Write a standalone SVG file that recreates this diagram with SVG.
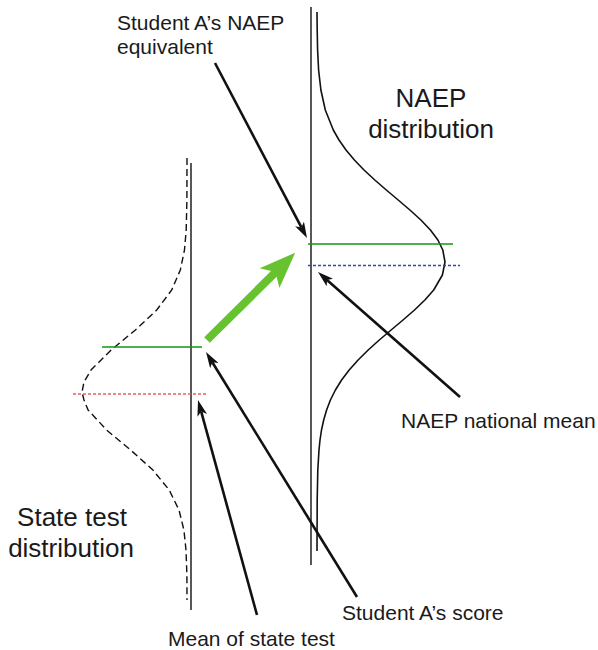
<svg xmlns="http://www.w3.org/2000/svg" width="598" height="650" viewBox="0 0 598 650">
<style>
text{font-family:"Liberation Sans",Arial,sans-serif;fill:#1a1a1a}
.lbl{font-size:21px}
.big{font-size:26px;text-anchor:middle}
.axis{stroke:#111;stroke-width:1.4;fill:none}
.curve{stroke:#111;stroke-width:1.6;fill:none;stroke-linejoin:round}
.dash{stroke:#111;stroke-width:1.4;fill:none;stroke-dasharray:7 4}
.green{stroke:#119911;stroke-width:1.4}
.conn{stroke:#111;stroke-width:2.6;fill:none;marker-end:url(#ah)}
</style>
<defs>
<marker id="ah" viewBox="0 0 16 10" refX="4" refY="5" markerWidth="16" markerHeight="10" markerUnits="userSpaceOnUse" orient="auto">
<path d="M0,0 L16,5 L0,10 L4,5 Z" fill="#111"/>
</marker>
</defs>
<rect width="598" height="650" fill="#fff"/>

<g id="naep-distribution">
<line class="axis" x1="311" y1="7" x2="311" y2="565"/>
<polyline class="curve" points="317,12 317.2,30 317.6,50 318.6,70 320.9,90 325.3,110 333.3,130 339,140 346,150 354.4,160 364,170 374.8,180 386.3,190 398.2,200 409.9,210 420.9,220 430.4,230 437.9,240 442.8,250 445,262 442.4,275 433.7,290 424.9,300 414.5,310 403,320 391.1,330 379.3,340 368.2,350 358.1,360 349.2,370 341.6,380 335.4,390 330.4,400 326.6,410 323.7,420 321.5,430 320,440 319,450 317.8,470 317.2,500 317,551"/>
<line class="green" x1="308" y1="244" x2="453" y2="244"/>
<line x1="308" y1="265.5" x2="460" y2="265.5" stroke="#3344aa" stroke-width="1.3" stroke-dasharray="3 2"/>
<text class="big" x="431" y="107">NAEP</text>
<text class="big" x="431" y="138">distribution</text>
</g>

<g id="state-distribution">
<line class="axis" x1="191" y1="163" x2="191" y2="610"/>
<polyline class="dash" points="187,158 186.9,200 186.2,230 184.5,250 180.3,270 171.7,290 156.7,310 135.4,330 111.2,350 91,370 84,382 82,392 84,400 88.1,410 106.6,430 130.6,450 152.9,470 169.2,490 179,510 183.9,530 186,550 186.9,575 187,600"/>
<line class="green" x1="102" y1="347" x2="202" y2="347"/>
<line x1="73" y1="394" x2="207" y2="394" stroke="#e06060" stroke-width="1.3" stroke-dasharray="3 2"/>
<text class="big" x="72" y="526">State test</text>
<text class="big" x="71" y="557">distribution</text>
</g>

<g id="green-arrow">
<polygon points="0,-4 94,-4 88,-14 124,0 88,14 94,4 0,4" fill="#66c22e" transform="translate(207,340) rotate(-44.7)"/>
</g>

<g id="connectors">
<line class="conn" x1="215" y1="63" x2="301.4" y2="227.4"/>
<line class="conn" x1="460" y1="397" x2="327" y2="279.9"/>
<line class="conn" x1="357" y1="597" x2="212.3" y2="362.2"/>
<line class="conn" x1="257" y1="615" x2="201.2" y2="411.6"/>
</g>

<g id="label-equivalent">
<text class="lbl" x="117" y="30">Student A’s NAEP</text>
<text class="lbl" x="117" y="54">equivalent</text>
</g>
<g id="label-national-mean">
<text class="lbl" x="401" y="428">NAEP national mean</text>
</g>
<g id="label-score">
<text class="lbl" x="342" y="620">Student A’s score</text>
</g>
<g id="label-state-mean">
<text class="lbl" x="168" y="646">Mean of state test</text>
</g>
</svg>
